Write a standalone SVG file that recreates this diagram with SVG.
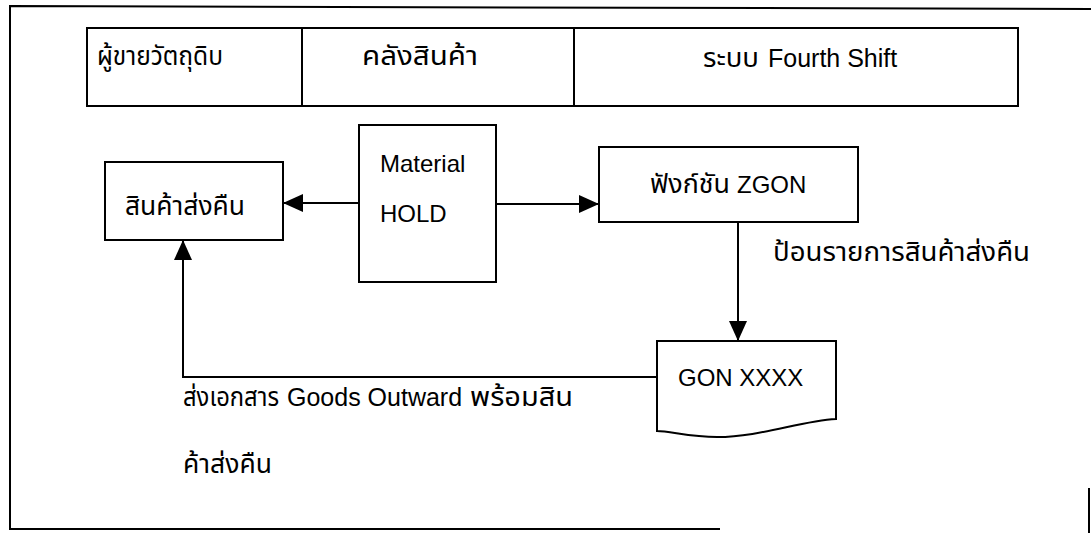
<svg xmlns="http://www.w3.org/2000/svg" width="1091" height="533" viewBox="0 0 1091 533">
<defs>
<marker id="arr" markerWidth="20" markerHeight="18" refX="20" refY="9" orient="auto" markerUnits="userSpaceOnUse">
<path d="M0,0 L20,9 L0,18 Z" fill="#000"/>
</marker>
<style>
.box{fill:#fff;stroke:#000;stroke-width:2}
.frame{fill:none;stroke:#000;stroke-width:2}
.con{fill:none;stroke:#000;stroke-width:2}
.t{font-family:"Liberation Sans","Noto Sans Thai","DejaVu Sans",sans-serif;font-size:24px;fill:#000}
.th{font-size:26px}
</style>
</defs>
<rect width="1091" height="533" fill="#fff"/>
<g id="frame">
<path class="frame" d="M1091,9 L10,6 L10,529 L720,529"/>
<path class="frame" d="M1089,488 L1089,533"/>
</g>
<g id="header">
<rect class="box" x="87" y="28" width="931" height="78"/>
<line class="frame" x1="302" y1="28" x2="302" y2="106"/>
<line class="frame" x1="574" y1="28" x2="574" y2="106"/>
<text class="t th" x="97" y="65" textLength="126" lengthAdjust="spacingAndGlyphs">ผู้ขายวัตถุดิบ</text>
<text class="t th" x="362" y="65" textLength="116" lengthAdjust="spacingAndGlyphs">คลังสินค้า</text>
<text class="t" y="67"><tspan class="th" x="703" textLength="56" lengthAdjust="spacingAndGlyphs">ระบบ</tspan><tspan x="768" style="font-size:25px">Fourth Shift</tspan></text>
</g>
<g id="connectors">
<line class="con" x1="359" y1="203" x2="283" y2="203" marker-end="url(#arr)"/>
<line class="con" x1="496" y1="204" x2="599" y2="204" marker-end="url(#arr)"/>
<line class="con" x1="738" y1="222" x2="738" y2="341" marker-end="url(#arr)"/>
<polyline class="con" points="657,377 183,377 183,240" marker-end="url(#arr)"/>
<text class="t th" x="773" y="261" textLength="257" lengthAdjust="spacingAndGlyphs">ป้อนรายการสินค้าส่งคืน</text>
<text class="t" y="406"><tspan class="th" x="183" textLength="96" lengthAdjust="spacingAndGlyphs">ส่งเอกสาร</tspan><tspan x="287" style="font-size:25px">Goods Outward</tspan><tspan class="th" x="470" textLength="103" lengthAdjust="spacingAndGlyphs">พร้อมสิน</tspan></text>
<text class="t th" x="183" y="473" textLength="89" lengthAdjust="spacingAndGlyphs">ค้าส่งคืน</text>
</g>
<g id="n-return">
<rect class="box" x="105" y="162" width="178" height="78"/>
<text class="t th" x="125" y="215" textLength="120" lengthAdjust="spacingAndGlyphs">สินค้าส่งคืน</text>
</g>
<g id="n-hold">
<rect class="box" x="359" y="125" width="137" height="157"/>
<text class="t" x="380" y="172">Material</text>
<text class="t" x="380" y="222">HOLD</text>
</g>
<g id="n-zgon">
<rect class="box" x="599" y="147" width="259" height="75"/>
<text class="t" y="193"><tspan class="th" x="650" textLength="80" lengthAdjust="spacingAndGlyphs">ฟังก์ชัน</tspan><tspan x="737">ZGON</tspan></text>
</g>
<g id="n-gon">
<path class="box" d="M657,341 H836 V419 C800,421 760,437 717,437 C690,437 670,431 657,431 Z"/>
<text class="t" x="678" y="386">GON XXXX</text>
</g>
</svg>
